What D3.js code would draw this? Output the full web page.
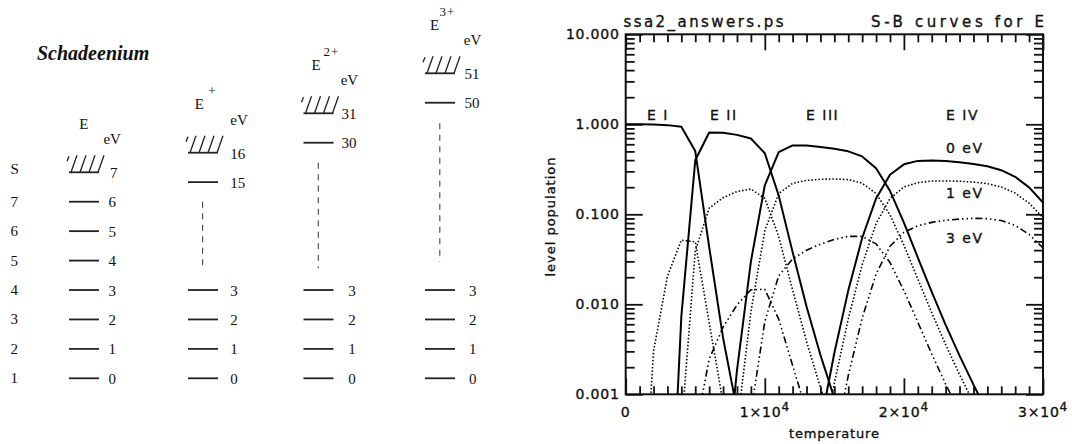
<!DOCTYPE html>
<html>
<head>
<meta charset="utf-8">
<script src="https://cdn.jsdelivr.net/npm/d3@7"></script>
<style>
  html, body { margin: 0; padding: 0; background: #ffffff; }
  svg { display: block; }
</style>
</head>
<body>
<svg id="chart" width="1072" height="444"></svg>
<script>
// ---------------------------------------------------------------
// Schadeenium: level diagram and Saha-Boltzmann population curves
// ---------------------------------------------------------------

// temperature grid (K)
const temperatures = [0, 1000, 2000, 3000, 4000, 5000, 6000, 7000, 8000, 9000, 10000,
  11000, 12000, 13000, 14000, 15000, 16000, 17000, 18000, 19000, 20000,
  21000, 22000, 23000, 24000, 25000, 26000, 27000, 28000, 29000, 30000];

// level populations, one value per temperature (null = not plotted)
const popEI_0eV = [1.00, 1.00, 0.997, 0.979, 0.938, 0.504, 0.0434, 0.00423, 0.000673, 0.000148,
  null, null, null, null, null, null, null, null, null, null, null,
  null, null, null, null, null, null, null, null, null, null];
const popEI_1eV = [null, 9.1e-6, 0.00301, 0.0205, 0.0516, 0.0494, 0.00627, 0.000806, 0.000158, null,
  null, null, null, null, null, null, null, null, null, null, null,
  null, null, null, null, null, null, null, null, null, null];
const popEI_3eV = [null, null, null, 8.9e-6, 0.000156, 0.000477, 0.000131, 2.9e-5, null, null,
  null, null, null, null, null, null, null, null, null, null, null,
  null, null, null, null, null, null, null, null, null, null];

const popEII_0eV = [null, null, null, 4.3e-6, 0.00732, 0.398, 0.812, 0.805, 0.763, 0.695, 0.477,
  0.162, 0.0380, 0.00945, 0.00273, 0.000906, 0.000333, null, null, null, null,
  null, null, null, null, null, null, null, null, null, null];
const popEII_1eV = [null, null, null, 8.9e-8, 0.000402, 0.0391, 0.117, 0.153, 0.179, 0.191, 0.150,
  0.0565, 0.0144, 0.00387, 0.00119, 0.000418, 0.000161, null, null, null, null,
  null, null, null, null, null, null, null, null, null, null];
const popEII_3eV = [null, null, null, null, 1.2e-6, 0.000377, 0.00245, 0.00557, 0.00983, 0.0145, 0.0147,
  0.00685, 0.00209, 0.000649, 0.000227, null, null, null, null, null, null,
  null, null, null, null, null, null, null, null, null, null];

const popEIII_0eV = [null, null, null, null, null, null, 4.2e-7, 5.08e-5, 0.00185, 0.0298, 0.210,
  0.490, 0.582, 0.581, 0.560, 0.535, 0.501, 0.440, 0.325, 0.182, 0.0809,
  0.0331, 0.0137, 0.00592, 0.00269, 0.00128, 0.000629, 0.00031, null, null, null];
const popEIII_1eV = [null, null, null, null, null, null, null, 9.7e-6, 0.000434, 0.00821, 0.0657,
  0.170, 0.221, 0.238, 0.245, 0.247, 0.243, 0.222, 0.170, 0.0986, 0.0453,
  0.0191, 0.00808, 0.00357, 0.00166, 0.000805, 0.000402, null, null, null, null];
const popEIII_3eV = [null, null, null, null, null, null, null, null, 2.4e-5, 0.000623, 0.00645,
  0.0207, 0.0320, 0.0399, 0.0466, 0.0525, 0.0569, 0.0568, 0.0469, 0.0291, 0.0142,
  0.00631, 0.00281, 0.00130, 0.000631, 0.000318, null, null, null, null, null];

const popEIV_0eV = [null, null, null, null, null, null, null, null, null, null, null,
  null, 4.5e-6, 5.47e-5, 0.000458, 0.00288, 0.0142, 0.0545, 0.150, 0.275, 0.359,
  0.392, 0.396, 0.390, 0.378, 0.363, 0.342, 0.309, 0.261, 0.199, 0.135];
const popEIV_1eV = [null, null, null, null, null, null, null, null, null, null, null,
  null, null, 2.24e-5, 0.000200, 0.00133, 0.00688, 0.0275, 0.0789, 0.150, 0.201,
  0.225, 0.234, 0.235, 0.233, 0.228, 0.219, 0.201, 0.172, 0.133, 0.0916];
const popEIV_3eV = [null, null, null, null, null, null, null, null, null, null, null,
  null, null, 3.8e-6, 3.81e-5, 0.000283, 0.00161, 0.00703, 0.0217, 0.0441, 0.0630,
  0.0746, 0.0813, 0.0857, 0.0886, 0.0902, 0.0895, 0.0852, 0.0752, 0.0598, 0.0423];

// labels and ticks
const stageLabels = ["E I", "E II", "E III", "E IV"];
const levelLabels = ["0 eV", "1 eV", "3 eV"];
const yMajorTicks = [0.001, 0.01, 0.1, 1, 10];
const xMajorTicks = [0, 10000, 20000, 30000];
const xTickMantissa = ["0", "1×10", "2×10", "3×10"];
const xTickExponent = ["", "4", "4", "4"];
const plotTitle = "ssa2_answers.ps";
const plotSubtitle = "S-B curves for E";
const xTitle = "temperature";
const yTitle = "level population";

// level diagram
const elementName = "Schadeenium";
const ionSymbols = ["E", "E", "E", "E"];
const ionCharges = ["", "+", "2+", "3+"];
const ionizationEnergies = [7, 16, 31, 51];      // eV, top of each ladder
const boundLevels = [[0, 1, 2, 3, 4, 5, 6], [0, 1, 2, 3, 15], [0, 1, 2, 3, 30], [0, 1, 2, 3, 50]];
const levelIndexLabels = ["1", "2", "3", "4", "5", "6", "7", "S"];

// ---------------------------------------------------------------
const svg = d3.select("#chart");
svg.append("rect").attr("width", 1072).attr("height", 444).attr("fill", "#fff");

// ================= level diagram (left) =================
const serif = "'Liberation Serif', 'Times New Roman', serif";
const diag = svg.append("g").attr("font-family", serif).attr("fill", "#111");

diag.append("text")
  .attr("x", 37).attr("y", 60)
  .attr("font-size", 20).attr("font-weight", "bold").attr("font-style", "italic")
  .text(elementName);

// vertical scale of the ladders (eV -> px) for the low levels
const ladderY = d3.scaleLinear().domain([0, 7]).range([378.3, 172.3]);
const stepPx = ladderY(0) - ladderY(1);

// per-column layout
const cols = [
  { x0: 69,  cont: ladderY(7), lab: 108.6, topLab: 110,   sym: 79.3,  sup: 0,     ev: 103.4, dash: null },
  { x0: 188, cont: 152.7,      lab: 230.3, topLab: 230.3, sym: 194.8, sup: 208.3, ev: 230.3, dash: 202.6, dashTop: 201.7, dashBot: 270 },
  { x0: 303.5, cont: 113.3,    lab: 348.3, topLab: 341.6, sym: 311.4, sup: 323.5, ev: 340.7, dash: 318.3, dashTop: 162.7, dashBot: 268.3 },
  { x0: 425, cont: 73.3,       lab: 469,   topLab: 464.5, sym: 430,   sup: 439.5, ev: 463.8, dash: 439.8, dashTop: 123.3, dashBot: 261.7 }
];
const lineLen = 30;

// index labels s = 1..7, S
levelIndexLabels.forEach((s, i) => {
  const y = i < 7 ? ladderY(i) + 5 : 173.5;
  diag.append("text").attr("x", 10.5).attr("y", y).attr("font-size", 15).text(s);
});

cols.forEach((c, k) => {
  const g = diag.append("g");
  const chi = ionizationEnergies[k];
  // header
  g.append("text").attr("x", c.sym).attr("y", c.cont - 43.5).attr("font-size", 15).text(ionSymbols[k]);
  if (ionCharges[k]) {
    g.append("text").attr("x", c.sup).attr("y", c.cont - 57.5)
      .attr("font-size", 13).attr("letter-spacing", 1).text(ionCharges[k]);
  }
  g.append("text").attr("x", c.ev).attr("y", c.cont - 28).attr("font-size", 15).text("eV");

  // bound levels
  boundLevels[k].forEach(e => {
    const isTop = e === chi - 1 && k > 0;
    const y = isTop ? c.cont + stepPx : ladderY(e);
    g.append("line")
      .attr("x1", c.x0).attr("x2", c.x0 + lineLen)
      .attr("y1", y).attr("y2", y)
      .attr("stroke", "#222").attr("stroke-width", 1.8);
    g.append("text")
      .attr("x", isTop ? c.topLab : c.lab).attr("y", y + 5.5)
      .attr("font-size", 15).text(e);
  });

  // continuum (hatched)
  const yc = c.cont;
  g.append("line")
    .attr("x1", c.x0).attr("x2", c.x0 + lineLen).attr("y1", yc).attr("y2", yc)
    .attr("stroke", "#222").attr("stroke-width", 1.8);
  [0, 1, 2, 3].forEach(i => {
    g.append("line")
      .attr("x1", c.x0 + 2 + 9 * i).attr("y1", yc)
      .attr("x2", c.x0 + 8 + 9 * i).attr("y2", yc - 17)
      .attr("stroke", "#222").attr("stroke-width", 1.3);
  });
  g.append("line")
    .attr("x1", c.x0 - 2).attr("y1", yc - 11)
    .attr("x2", c.x0).attr("y2", yc - 16)
    .attr("stroke", "#222").attr("stroke-width", 1.3);
  g.append("text").attr("x", c.topLab).attr("y", yc + 6).attr("font-size", 15).text(chi);

  // gap in the ladder
  if (c.dash !== null) {
    g.append("line")
      .attr("x1", c.dash).attr("x2", c.dash)
      .attr("y1", c.dashTop).attr("y2", c.dashBot)
      .attr("stroke", "#444").attr("stroke-width", 1.1)
      .attr("stroke-dasharray", "6,5.5");
  }
});

// ================= population plot (right) =================
const sans = "'DejaVu Sans', Verdana, sans-serif";
const L = 625.7, R = 1043, T0 = 34.3, B = 394.3;

const x = d3.scaleLinear().domain([0, 30000]).range([L, R]);
const y = d3.scaleLog().domain([0.001, 10]).range([B, T0]);

const plot = svg.append("g").attr("font-family", sans).attr("fill", "#111")
  .attr("stroke-linecap", "butt");

svg.append("defs").append("clipPath").attr("id", "plotClip")
  .append("rect").attr("x", L).attr("y", T0).attr("width", R - L).attr("height", B - T0);

// minor tick values
const xMinorTicks = temperatures.filter(t => !xMajorTicks.includes(t));
const yMinorTicks = [];
[0.001, 0.01, 0.1, 1].forEach(d => { for (let m = 2; m <= 9; m++) yMinorTicks.push(+(d * m).toPrecision(3)); });

// text drawn with a faint outline to give the heavier vector-font look
function heavy(sel) {
  return sel.attr("stroke", "#111").attr("stroke-width", 0.35);
}

function styleAxis(g) {
  g.select(".domain").remove();
  g.selectAll(".tick line").attr("stroke", "#111").attr("stroke-width", 1.8);
  g.selectAll(".tick text")
    .attr("font-family", sans).attr("font-size", 14)
    .attr("letter-spacing", 0.8).attr("fill", "#111")
    .call(heavy);
}

// bottom / top axes
plot.append("g").attr("transform", `translate(0,${B})`)
  .call(d3.axisBottom(x).tickValues(xMajorTicks).tickSizeInner(-16).tickSizeOuter(0).tickFormat(""))
  .call(styleAxis);
plot.append("g").attr("transform", `translate(0,${B})`)
  .call(d3.axisBottom(x).tickValues(xMinorTicks).tickSizeInner(-8).tickSizeOuter(0).tickFormat(""))
  .call(styleAxis);
plot.append("g").attr("transform", `translate(0,${T0})`)
  .call(d3.axisTop(x).tickValues(xMajorTicks).tickSizeInner(-16).tickSizeOuter(0).tickFormat(""))
  .call(styleAxis);
plot.append("g").attr("transform", `translate(0,${T0})`)
  .call(d3.axisTop(x).tickValues(xMinorTicks).tickSizeInner(-8).tickSizeOuter(0).tickFormat(""))
  .call(styleAxis);

// left / right axes
plot.append("g").attr("transform", `translate(${L},0)`)
  .call(d3.axisLeft(y).tickValues(yMajorTicks).tickSizeInner(-17).tickSizeOuter(0)
    .tickPadding(6).tickFormat(d3.format(".3f")))
  .call(styleAxis);
plot.append("g").attr("transform", `translate(${L},0)`)
  .call(d3.axisLeft(y).tickValues(yMinorTicks).tickSizeInner(-9).tickSizeOuter(0).tickFormat(""))
  .call(styleAxis);
plot.append("g").attr("transform", `translate(${R},0)`)
  .call(d3.axisRight(y).tickValues(yMajorTicks).tickSizeInner(-17).tickSizeOuter(0).tickFormat(""))
  .call(styleAxis);
plot.append("g").attr("transform", `translate(${R},0)`)
  .call(d3.axisRight(y).tickValues(yMinorTicks).tickSizeInner(-9).tickSizeOuter(0).tickFormat(""))
  .call(styleAxis);

// x tick labels with exponent
xMajorTicks.forEach((t, i) => {
  const tx = plot.append("text")
    .attr("x", x(t)).attr("y", 417)
    .attr("text-anchor", "middle")
    .attr("font-size", 14).attr("letter-spacing", 0.8)
    .call(heavy)
    .text(xTickMantissa[i]);
  if (xTickExponent[i]) {
    tx.append("tspan").attr("dy", -6.5).attr("font-size", 12).text(xTickExponent[i]);
  }
});

// frame
plot.append("rect")
  .attr("x", L).attr("y", T0).attr("width", R - L).attr("height", B - T0)
  .attr("fill", "none").attr("stroke", "#111").attr("stroke-width", 2);

// titles
plot.append("text").attr("x", 623.5).attr("y", 27)
  .attr("font-size", 15).attr("textLength", 160).attr("lengthAdjust", "spacing")
  .call(heavy).text(plotTitle);
plot.append("text").attr("x", 1044).attr("y", 27).attr("text-anchor", "end")
  .attr("font-size", 15).attr("textLength", 173).attr("lengthAdjust", "spacing")
  .call(heavy).text(plotSubtitle);
plot.append("text").attr("x", 834).attr("y", 438).attr("text-anchor", "middle")
  .attr("font-size", 13).attr("textLength", 90).attr("lengthAdjust", "spacing")
  .call(heavy).text(xTitle);
plot.append("text")
  .attr("transform", "translate(555,217) rotate(-90)")
  .attr("text-anchor", "middle")
  .attr("font-size", 13).attr("textLength", 119).attr("lengthAdjust", "spacing")
  .call(heavy).text(yTitle);

// curves
const lineStyles = {
  0: { dash: null, width: 2 },
  1: { dash: "1.5,2", width: 1.6 },
  3: { dash: "7,3,1.5,3,1.5,3,1.5,3", width: 1.6 }
};
const curves = [
  { level: 0, values: popEI_0eV },   { level: 1, values: popEI_1eV },   { level: 3, values: popEI_3eV },
  { level: 0, values: popEII_0eV },  { level: 1, values: popEII_1eV },  { level: 3, values: popEII_3eV },
  { level: 0, values: popEIII_0eV }, { level: 1, values: popEIII_1eV }, { level: 3, values: popEIII_3eV },
  { level: 0, values: popEIV_0eV },  { level: 1, values: popEIV_1eV },  { level: 3, values: popEIV_3eV }
];

const lineGen = d3.line()
  .defined(d => d[1] !== null && d[1] > 0)
  .x(d => x(d[0]))
  .y(d => y(d[1]));

const curveLayer = plot.append("g").attr("clip-path", "url(#plotClip)");
curves.forEach(c => {
  const st = lineStyles[c.level];
  curveLayer.append("path")
    .datum(temperatures.map((t, i) => [t, c.values[i]]))
    .attr("d", lineGen)
    .attr("fill", "none")
    .attr("stroke", "#000")
    .attr("stroke-width", st.width)
    .attr("stroke-linejoin", "round")
    .attr("stroke-dasharray", st.dash);
});

// in-plot annotations
const stageX = [647, 710, 806, 946];
stageLabels.forEach((s, i) => {
  plot.append("text").attr("x", stageX[i]).attr("y", 119.5)
    .attr("font-size", 14).attr("letter-spacing", 1.5)
    .call(heavy).text(s);
});
const levelY = [153, 197.5, 243];
levelLabels.forEach((s, i) => {
  plot.append("text").attr("x", 946).attr("y", levelY[i])
    .attr("font-size", 14).attr("letter-spacing", 1.5)
    .call(heavy).text(s);
});
</script>
</body>
</html>
